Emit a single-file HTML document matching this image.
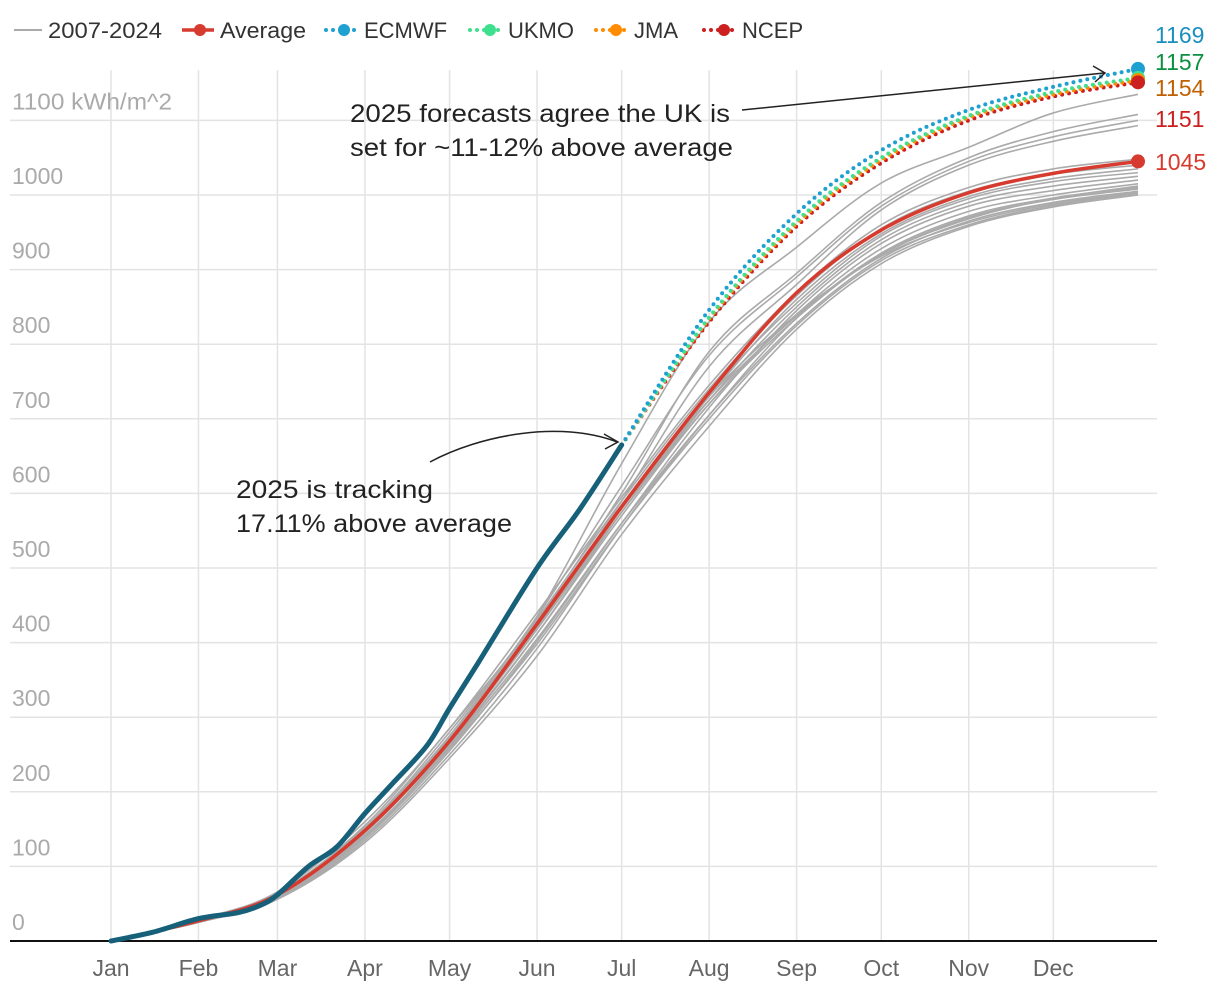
<!DOCTYPE html>
<html><head><meta charset="utf-8"><style>
body{margin:0;background:#fff;}
svg{display:block;font-family:"Liberation Sans",Arial,sans-serif;}
</style></head><body>
<svg id="chart" width="1220" height="992" viewBox="0 0 1220 992">
<g id="grid"></g>
<g id="axes"></g>
<g id="series"></g>
<g id="labels"></g>
<g font-size="22" fill="#333">
  <g><line x1="14" y1="30" x2="42" y2="30" stroke="#aaa" stroke-width="2"/><text x="48" y="38" textLength="114" lengthAdjust="spacingAndGlyphs">2007-2024</text></g>
  <g><line x1="182" y1="30" x2="214" y2="30" stroke="#d73a2e" stroke-width="3.5"/><circle cx="200" cy="30" r="6" fill="#d73a2e"/><text x="220" y="38" textLength="86" lengthAdjust="spacingAndGlyphs">Average</text></g>
  <g><line x1="326" y1="30" x2="356" y2="30" stroke="#1ea0d0" stroke-width="4" stroke-dasharray="0 7" stroke-linecap="round"/><circle cx="344" cy="30" r="6" fill="#1ea0d0"/><text x="364" y="38">ECMWF</text></g>
  <g><line x1="470" y1="30" x2="500" y2="30" stroke="#3ee08f" stroke-width="4" stroke-dasharray="0 7" stroke-linecap="round"/><circle cx="490" cy="30" r="6" fill="#3ee08f"/><text x="508" y="38">UKMO</text></g>
  <g><line x1="596" y1="30" x2="626" y2="30" stroke="#ff8c00" stroke-width="4" stroke-dasharray="0 7" stroke-linecap="round"/><circle cx="616" cy="30" r="6" fill="#ff8c00"/><text x="634" y="38">JMA</text></g>
  <g><line x1="704" y1="30" x2="734" y2="30" stroke="#cc2020" stroke-width="4" stroke-dasharray="0 7" stroke-linecap="round"/><circle cx="724" cy="30" r="6" fill="#cc2020"/><text x="742" y="38">NCEP</text></g>
</g>
<g font-size="25" fill="#222">
  <text x="350" y="122" textLength="380" lengthAdjust="spacingAndGlyphs">2025 forecasts agree the UK is</text>
  <text x="350" y="156" textLength="383" lengthAdjust="spacingAndGlyphs">set for ~11-12% above average</text>
  <line x1="742" y1="110" x2="1104" y2="73" stroke="#222" stroke-width="1.5"/>
  <path d="M1093,66 L1105,73 L1095,82" fill="none" stroke="#222" stroke-width="1.5"/>
</g>
<g font-size="25" fill="#222">
  <text x="236" y="498" textLength="197" lengthAdjust="spacingAndGlyphs">2025 is tracking</text>
  <text x="236" y="532" textLength="276" lengthAdjust="spacingAndGlyphs">17.11% above average</text>
  <path d="M430,462 C480,435 560,420 617,442" fill="none" stroke="#222" stroke-width="1.5"/>
  <path d="M604,434 L618,442 L605,449" fill="none" stroke="#222" stroke-width="1.5"/>
</g>
</svg>
<script>
const monthDays=[0,31,59,90,120,151,181,212,243,273,304,334,364];
const monthNames=["Jan","Feb","Mar","Apr","May","Jun","Jul","Aug","Sep","Oct","Nov","Dec"];
const yTicks=[0,100,200,300,400,500,600,700,800,900,1000,1100];
const avgValues=[0,27,62,148,268,425,582,735,869,953,1003,1029,1045];
const yearsValues=[
[0,26,58,140,265,435,640,830,930,1016,1064,1110,1135],
[0,28,64,155,285,430,600,790,895,990,1050,1085,1108],
[0,25,58,145,275,435,610,785,890,985,1045,1078,1100],
[0,27,63,150,270,420,590,770,880,980,1040,1072,1093],
[0,29,66,160,285,440,595,745,870,960,1010,1035,1048],
[0,28,63,152,280,432,590,740,865,955,1005,1028,1040],
[0,26,60,140,262,412,575,730,860,948,998,1022,1035],
[0,28,64,152,275,428,585,735,855,945,995,1018,1030],
[0,27,62,148,268,418,575,725,850,940,990,1012,1025],
[0,26,59,138,255,402,560,715,845,935,985,1006,1020],
[0,27,61,145,265,412,570,720,840,928,978,1000,1015],
[0,25,57,135,250,392,555,705,835,922,972,996,1010],
[0,28,64,150,272,422,575,720,835,920,970,994,1008],
[0,26,60,142,260,405,560,705,828,915,965,990,1005],
[0,27,62,146,268,418,580,730,840,918,963,988,1003],
[0,25,56,132,245,382,545,690,820,908,958,984,1000],
[0,26,59,140,258,398,555,700,825,912,960,986,1002],
[0,27,61,150,272,425,580,725,838,920,968,995,1012]
];
const y2025Days=[0,15,31,45,53,59,70,80,90,100,112,120,130,151,166,181];
const y2025Values=[0,12,30,38,48,62,100,126,171,212,262,312,372,500,578,665];
const fcDays=[181,212,243,273,304,334,364];
const ecmwfValues=[665,846,975,1060,1114,1145,1169];
const ukmoValues=[665,836,965,1050,1106,1138,1157];
const jmaValues=[665,834,962,1047,1104,1135,1154];
const ncepValues=[665,830,958,1043,1100,1132,1151];

const NS="http://www.w3.org/2000/svg";
const X=d=>111+d*(1027/364);
const Y=v=>941-v*0.746;
function mk(tag,attrs,parent){const e=document.createElementNS(NS,tag);for(const k in attrs)e.setAttribute(k,attrs[k]);parent.appendChild(e);return e;}
function smooth(days,vals){
  const p=days.map((d,i)=>[X(d),Y(vals[i])]);
  let s="M"+p[0][0]+","+p[0][1];
  for(let i=0;i<p.length-1;i++){
    const p0=p[i-1]||p[i],p1=p[i],p2=p[i+1],p3=p[i+2]||p2;
    const c1=[p1[0]+(p2[0]-p0[0])/6,p1[1]+(p2[1]-p0[1])/6];
    const c2=[p2[0]-(p3[0]-p1[0])/6,p2[1]-(p3[1]-p1[1])/6];
    s+=" C"+c1+" "+c2+" "+p2;
  }
  return s;
}
const grid=document.getElementById("grid"),axes=document.getElementById("axes"),series=document.getElementById("series"),labels=document.getElementById("labels");
yTicks.forEach(t=>{
  if(t>0){const l=mk("line",{x1:10,x2:1157,y1:Y(t),y2:Y(t),stroke:"#e3e3e3","stroke-width":1.5},grid);
  
  }
  const tx=mk("text",{x:12,y:Y(t)-11,"font-size":23,fill:"#aaa"},axes);
  if(t===1100){tx.setAttribute("textLength",160);tx.setAttribute("lengthAdjust","spacingAndGlyphs");}
  tx.textContent=t===1100?"1100 kWh/m^2":String(t);
  
  
});
monthNames.forEach((m,i)=>{
  const l=mk("line",{x1:X(monthDays[i]),x2:X(monthDays[i]),y1:70,y2:941,stroke:"#e3e3e3","stroke-width":1.5},grid);
  
  
  const tx=mk("text",{x:X(monthDays[i]),y:976,"font-size":23,fill:"#666","text-anchor":"middle"},axes);
  tx.textContent=m;
  
  
});
const ax=mk("line",{x1:10,x2:1157,y1:941,y2:941,stroke:"#111","stroke-width":2},axes);


yearsValues.forEach(v=>{
  const p=mk("path",{d:smooth(monthDays,v),fill:"none",stroke:"#aaa","stroke-width":1.6},series);
  
  
});
const av=mk("path",{d:smooth(monthDays,avgValues),fill:"none",stroke:"#d73a2e","stroke-width":3.5},series);


const avd=mk("circle",{cx:X(364),cy:Y(avgValues[12]),r:7,fill:"#d73a2e"},series);


const fcs=[[ncepValues,"#cc2020","ncep"],[jmaValues,"#ff8c00","jma"],[ukmoValues,"#3ee08f","ukmo"],[ecmwfValues,"#1ea0d0","ecmwf"]];
fcs.forEach(([v,c,n])=>{
  const p=mk("path",{d:smooth(fcDays,v),fill:"none",stroke:c,"stroke-width":4,"stroke-dasharray":"0 7","stroke-linecap":"round"},series);
  
  
});
[[ecmwfValues,"#1ea0d0","ecmwf"],[ukmoValues,"#3ee08f","ukmo"],[jmaValues,"#ff8c00","jma"],[ncepValues,"#cc2020","ncep"]].forEach(([v,c,n])=>{
  const d=mk("circle",{cx:X(364),cy:Y(v[v.length-1]),r:7,fill:c},series);
  
  
});
const y25=mk("path",{d:smooth(y2025Days,y2025Values),fill:"none",stroke:"#17607a","stroke-width":5,"stroke-linecap":"round"},series);


const endLabels=[[ecmwfValues[6],"#1a8fbf",35],[ukmoValues[6],"#0a9040",62],[jmaValues[6],"#c06000",88],[ncepValues[6],"#cc2020",119],[avgValues[12],"#d73a2e",162]];
endLabels.forEach(([v,c,y])=>{
  const t=mk("text",{x:1155,y:y+8,"font-size":23,fill:c},labels);
  t.textContent=String(v);
  
  
});
</script>
</body></html>
